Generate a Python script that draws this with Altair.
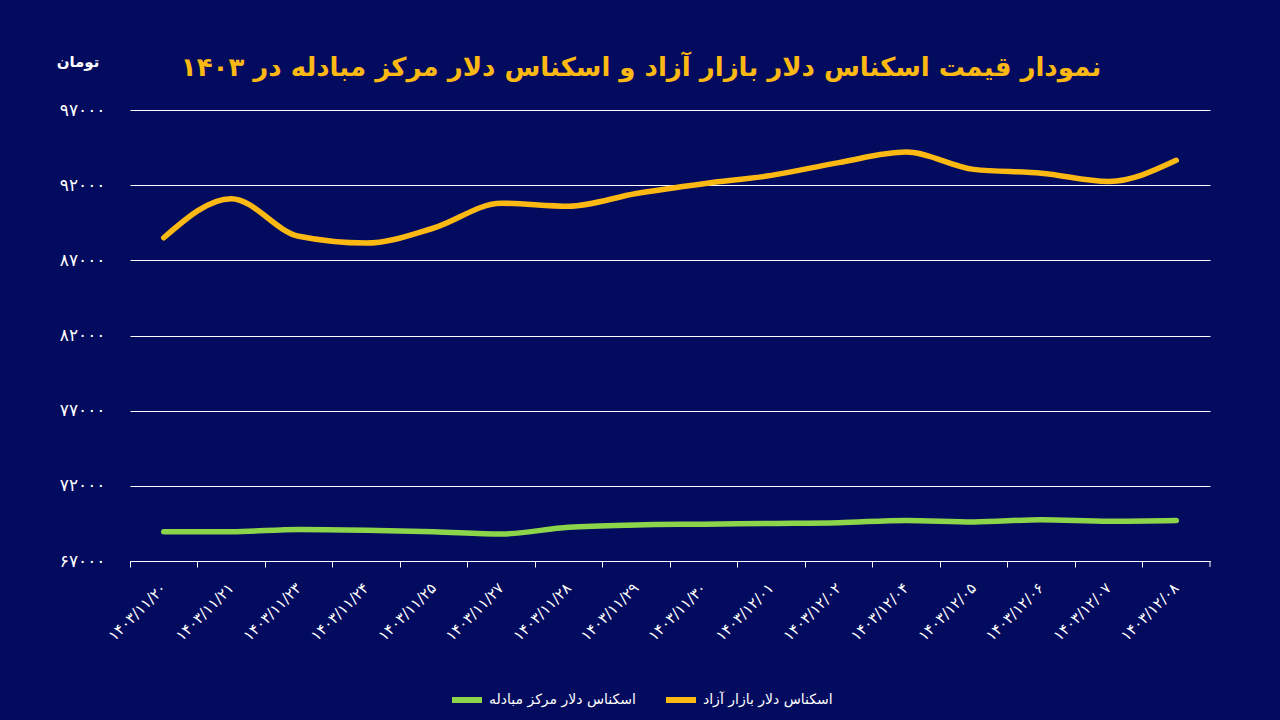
import altair as alt
import pandas as pd

dates = ["۱۴۰۳/۱۱/۲۰", "۱۴۰۳/۱۱/۲۱", "۱۴۰۳/۱۱/۲۳", "۱۴۰۳/۱۱/۲۴", "۱۴۰۳/۱۱/۲۵",
         "۱۴۰۳/۱۱/۲۷", "۱۴۰۳/۱۱/۲۸", "۱۴۰۳/۱۱/۲۹", "۱۴۰۳/۱۱/۳۰", "۱۴۰۳/۱۲/۰۱",
         "۱۴۰۳/۱۲/۰۲", "۱۴۰۳/۱۲/۰۴", "۱۴۰۳/۱۲/۰۵", "۱۴۰۳/۱۲/۰۶", "۱۴۰۳/۱۲/۰۷",
         "۱۴۰۳/۱۲/۰۸"]
free_market = [88500, 91100, 88600, 88150, 89150, 90800, 90600, 91450, 92100, 92650,
               93500, 94200, 93050, 92800, 92250, 93650]
exchange_center = [68950, 68950, 69100, 69050, 68950, 68800, 69250, 69400, 69450, 69500,
                   69550, 69700, 69600, 69750, 69650, 69700]
name_free = "اسکناس دلار بازار آزاد"
name_center = "اسکناس دلار مرکز مبادله"
y_ticks = [67000, 72000, 77000, 82000, 87000, 92000, 97000]
y_tick_labels = ["۶۷۰۰۰", "۷۲۰۰۰", "۷۷۰۰۰", "۸۲۰۰۰", "۸۷۰۰۰", "۹۲۰۰۰", "۹۷۰۰۰"]
title_text = "نمودار قیمت اسکناس دلار بازار آزاد و اسکناس دلار مرکز مبادله در ۱۴۰۳"
unit_text = "تومان"

BG = "#030B5E"
YELLOW = "#FDB913"
GREEN = "#8CD44A"
FONT = "DejaVu Sans"

rows = []
for i, d in enumerate(dates):
    rows.append({"date": d, "series": name_center, "value": exchange_center[i]})
    rows.append({"date": d, "series": name_free, "value": free_market[i]})
df = pd.DataFrame(rows)

label_expr = ""
for v, lab in zip(y_ticks, y_tick_labels):
    label_expr += f"datum.value == {v} ? '{lab}' : "
label_expr += "''"

W, H = 1080, 451

lines = alt.Chart(df).mark_line(
    strokeWidth=5.5, interpolate="monotone", strokeCap="round"
).encode(
    x=alt.X("date:N", sort=dates, title=None,
            scale=alt.Scale(type="band", paddingInner=0, paddingOuter=0),
            axis=alt.Axis(bandPosition=0, labelAngle=315, labelAlign="right",
                          labelBaseline="middle", labelPadding=18, labelFontSize=15,
                          labelColor="white", labelFont=FONT, tickColor="white",
                          tickSize=6, domainColor="white", grid=False)),
    y=alt.Y("value:Q", title=None,
            scale=alt.Scale(domain=[67000, 97000], nice=False, zero=False),
            axis=alt.Axis(values=y_ticks, labelExpr=label_expr, domain=False,
                          ticks=False, labelPadding=25, labelFontSize=17,
                          labelColor="white", labelFont=FONT, gridColor="white",
                          gridWidth=1, gridOpacity=1)),
    color=alt.Color("series:N", sort=[name_center, name_free],
                    scale=alt.Scale(domain=[name_center, name_free], range=[GREEN, YELLOW]),
                    legend=alt.Legend(title=None, orient="none", direction="horizontal",
                                      legendX=319, legendY=572, symbolType="stroke",
                                      symbolStrokeWidth=6, symbolSize=900,
                                      labelFontSize=14, labelColor="white",
                                      labelFont=FONT, columnPadding=18,
                                      labelLimit=300)),
)

end_tick = alt.Chart(pd.DataFrame({"a": [0]})).mark_rule(color="white", strokeWidth=1).encode(
    x=alt.value(W), y=alt.value(H), y2=alt.value(H + 6)
)

unit = alt.Chart(pd.DataFrame({"t": [unit_text]})).mark_text(
    color="white", fontSize=15, fontWeight="bold", font=FONT, align="center"
).encode(text="t:N", x=alt.value(-52), y=alt.value(-48))

chart = alt.layer(lines, end_tick, unit).properties(
    width=W, height=H,
    background=BG,
    padding={"left": 130, "top": 110, "right": 70, "bottom": 159},
    autosize=alt.AutoSizeParams(type="none"),
    title=alt.TitleParams(title_text, anchor="middle", dx=-29, dy=56, offset=30,
                          fontSize=26, fontWeight="bold", color=YELLOW, font=FONT),
).configure_view(stroke=None)

chart.save("out.html", embed_options={"renderer": "svg", "actions": False})
